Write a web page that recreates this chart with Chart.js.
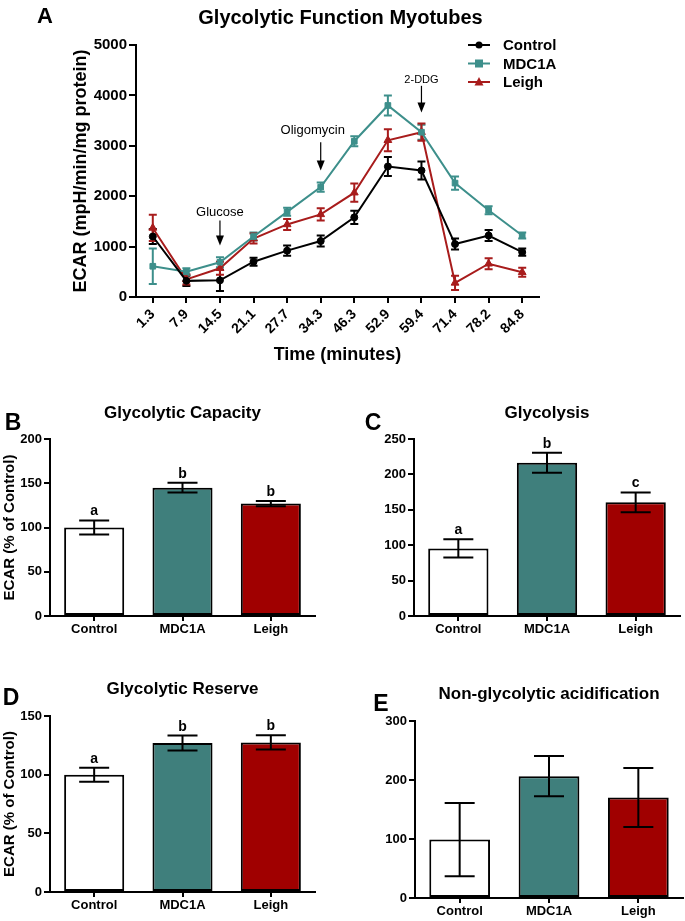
<!DOCTYPE html>
<html>
<head>
<meta charset="utf-8">
<script src="https://cdn.jsdelivr.net/npm/chart.js@4.4.0/dist/chart.umd.min.js"></script>
<style>
    body { margin: 0; background: #fff; }
    #page { position: relative; width: 685px; height: 921px; background: #fff; overflow: hidden; }
    canvas { position: absolute; }
</style>
</head>
<body>
<div id="page">
    <canvas id="chartA" width="685" height="370" style="left:0;top:0"></canvas>
    <canvas id="chartB" width="345" height="260" style="left:0;top:380px"></canvas>
    <canvas id="chartC" width="340" height="260" style="left:345px;top:380px"></canvas>
    <canvas id="chartD" width="345" height="281" style="left:0;top:640px"></canvas>
    <canvas id="chartE" width="340" height="281" style="left:345px;top:640px"></canvas>
</div>
<script>
const FONT = "'Liberation Sans', Arial, sans-serif";

// panel A - ECAR time course
const timeLabels = ['1.3', '7.9', '14.5', '21.1', '27.7', '34.3', '46.3', '52.9', '59.4', '71.4', '78.2', '84.8'];
const controlEcar = [1200, 320, 330, 700, 920, 1110, 1580, 2590, 2510, 1050, 1220, 890];
const controlErr = [150, 100, 210, 80, 100, 110, 130, 190, 180, 110, 110, 70];
const mdc1aEcar = [610, 500, 690, 1200, 1690, 2180, 3090, 3800, 3270, 2260, 1720, 1220];
const mdc1aErr = [350, 70, 100, 80, 80, 90, 100, 200, 150, 130, 80, 60];
const leighEcar = [1370, 350, 570, 1160, 1440, 1640, 2070, 3110, 3270, 280, 660, 490];
const leighErr = [260, 100, 130, 100, 110, 120, 180, 220, 170, 140, 110, 90];

// injections: label, category index
const injections = ['Glucose', 'Oligomycin', '2-DDG'];
const injectionIndex = [2, 5, 8];

// panels B-E - % of control
const groupLabels = ['Control', 'MDC1A', 'Leigh'];
const capacityValues = [100, 145, 127];
const capacityErr = [8, 5.5, 3];
const capacityLetters = ['a', 'b', 'b'];
const glycolysisValues = [95.5, 216.5, 160.5];
const glycolysisErr = [13, 14, 14];
const glycolysisLetters = ['a', 'b', 'c'];
const reserveValues = [100, 127, 127.5];
const reserveErr = [6, 6.3, 6];
const reserveLetters = ['a', 'b', 'b'];
const nonGlycoValues = [99, 206.5, 170.5];
const nonGlycoErr = [62, 34, 50];

const COLORS = {
    control: '#000000',
    mdc1a: '#3d8f8b',
    leigh: '#a81c1c',
    controlBar: '#ffffff',
    mdc1aBar: '#3f7f7c',
    leighBar: '#a00000'
};

function font (size, weight = 'bold') {
    return { family: FONT, size: size, weight: weight };
}

function fixSize (prop, value) {
    return scale => { scale[prop] = value; };
}

function drawMarker (ctx, style, x, y, r) {
    ctx.beginPath();
    if (style === 'circle') {
        ctx.arc(x, y, r, 0, Math.PI * 2);
    } else if (style === 'rect') {
        ctx.rect(x - r, y - r, r * 2, r * 2);
    } else {
        ctx.moveTo(x, y - r * 1.1);
        ctx.lineTo(x + r, y + r * 0.8);
        ctx.lineTo(x - r, y + r * 0.8);
        ctx.closePath();
    }
    ctx.fill();
}

// letter + title drawn in the padding above each panel
const panelText = {
    id: 'panelText',
    afterDraw (chart, args, opts) {
        const { ctx, chartArea } = chart;
        ctx.save();
        ctx.fillStyle = '#000';
        ctx.textBaseline = 'middle';
        ctx.textAlign = 'center';
        ctx.font = `bold ${opts.letterSize}px ${FONT}`;
        ctx.fillText(opts.letter, opts.letterX, opts.letterY);
        ctx.font = `bold ${opts.titleSize}px ${FONT}`;
        ctx.fillText(opts.title, (chartArea.left + chartArea.right) / 2 + (opts.titleShift || 0), opts.titleY);
        ctx.restore();
    }
};

const lineErrorBars = {
    id: 'lineErrorBars',
    beforeDatasetsDraw (chart) {
        const { ctx, scales: { y } } = chart;
        chart.data.datasets.forEach((ds, i) => {
            const meta = chart.getDatasetMeta(i);
            ctx.save();
            ctx.strokeStyle = ds.borderColor;
            ctx.lineWidth = 2;
            meta.data.forEach((pt, j) => {
                const hi = y.getPixelForValue(ds.data[j] + ds.errors[j]);
                const lo = y.getPixelForValue(ds.data[j] - ds.errors[j]);
                ctx.beginPath();
                ctx.moveTo(pt.x, hi); ctx.lineTo(pt.x, lo);
                ctx.moveTo(pt.x - 4, hi); ctx.lineTo(pt.x + 4, hi);
                ctx.moveTo(pt.x - 4, lo); ctx.lineTo(pt.x + 4, lo);
                ctx.stroke();
            });
            ctx.restore();
        });
    }
};

const seriesLegend = {
    id: 'seriesLegend',
    afterDraw (chart, args, opts) {
        const { ctx } = chart;
        ctx.save();
        ctx.font = `bold 15px ${FONT}`;
        ctx.textBaseline = 'middle';
        chart.data.datasets.forEach((ds, i) => {
            const y = opts.y + i * opts.rowHeight;
            ctx.strokeStyle = ds.borderColor;
            ctx.fillStyle = ds.borderColor;
            ctx.lineWidth = 2;
            ctx.beginPath();
            ctx.moveTo(opts.x, y);
            ctx.lineTo(opts.x + 22, y);
            ctx.stroke();
            drawMarker(ctx, ds.pointStyle, opts.x + 11, y, ds.pointRadius);
            ctx.fillStyle = '#000';
            ctx.fillText(ds.label, opts.x + 35, y + 1);
        });
        ctx.restore();
    }
};

const injectionArrows = {
    id: 'injectionArrows',
    afterDraw (chart, args, opts) {
        const { ctx, scales: { x, y } } = chart;
        ctx.save();
        ctx.fillStyle = '#000';
        ctx.strokeStyle = '#000';
        ctx.lineWidth = 1.2;
        ctx.textAlign = 'center';
        ctx.textBaseline = 'middle';
        injections.forEach((name, i) => {
            const a = opts.anchors[i];
            const px = x.getPixelForValue(injectionIndex[i]);
            const top = y.getPixelForValue(a.from);
            const tip = y.getPixelForValue(a.to);
            ctx.font = `${a.size}px ${FONT}`;
            ctx.fillText(name, px + (a.dx || 0), y.getPixelForValue(a.text));
            ctx.beginPath();
            ctx.moveTo(px, top);
            ctx.lineTo(px, tip - 8);
            ctx.stroke();
            ctx.beginPath();
            ctx.moveTo(px - 4, tip - 10);
            ctx.lineTo(px + 4, tip - 10);
            ctx.lineTo(px, tip);
            ctx.closePath();
            ctx.fill();
        });
        ctx.restore();
    }
};

function createTimeCourse () {
    const series = (label, data, errors, color, style, radius) => ({
        label, data, errors,
        borderColor: color,
        backgroundColor: color,
        pointBackgroundColor: color,
        pointBorderColor: color,
        pointStyle: style,
        pointRadius: radius,
        pointBorderWidth: 1,
        borderWidth: 2,
        tension: 0
    });

    return new Chart(document.getElementById('chartA'), {
        type: 'line',
        data: {
            labels: timeLabels,
            datasets: [
                series('Control', controlEcar, controlErr, COLORS.control, 'circle', 3.5),
                series('MDC1A', mdc1aEcar, mdc1aErr, COLORS.mdc1a, 'rect', 4),
                series('Leigh', leighEcar, leighErr, COLORS.leigh, 'triangle', 4.5)
            ]
        },
        options: {
            responsive: false,
            animation: false,
            layout: { padding: { top: 45, right: 146, left: 0, bottom: 0 } },
            plugins: {
                legend: { display: false },
                tooltip: { enabled: false },
                panelText: { letter: 'A', letterX: 45, letterY: 17, letterSize: 22, title: 'Glycolytic Function Myotubes', titleY: 18, titleSize: 20, titleShift: 3 },
                seriesLegend: { x: 468, y: 45, rowHeight: 18.5 },
                injectionArrows: {
                    anchors: [
                        { text: 1670, from: 1520, to: 1020, size: 13 },
                        { text: 3310, from: 3070, to: 2510, size: 13, dx: -8 },
                        { text: 4300, from: 4190, to: 3660, size: 11 }
                    ]
                }
            },
            scales: {
                x: {
                    type: 'category',
                    offset: true,
                    afterFit: fixSize('height', 73),
                    border: { color: '#000', width: 2 },
                    grid: { display: true, drawOnChartArea: false, offset: false, tickLength: 6, color: '#000', lineWidth: 2 },
                    ticks: { autoSkip: false, minRotation: 45, maxRotation: 45, padding: 3, color: '#000', font: font(14) },
                    title: { display: true, text: 'Time (minutes)', color: '#000', font: font(18), padding: { bottom: 4 } }
                },
                y: {
                    min: 0,
                    max: 5000,
                    afterFit: fixSize('width', 136),
                    border: { color: '#000', width: 2 },
                    grid: { display: true, drawOnChartArea: false, tickLength: 7, color: '#000', lineWidth: 2 },
                    ticks: { stepSize: 1000, padding: 2, color: '#000', font: font(15), callback: value => String(value) },
                    title: { display: true, text: 'ECAR (mpH/min/mg protein)', color: '#000', font: font(18), padding: { top: 70 } }
                }
            }
        },
        plugins: [lineErrorBars, seriesLegend, injectionArrows, panelText]
    });
}

const barErrorBars = {
    id: 'barErrorBars',
    afterDatasetsDraw (chart, args, opts) {
        const { ctx, scales: { y } } = chart;
        const ds = chart.data.datasets[0];
        const meta = chart.getDatasetMeta(0);
        ctx.save();
        ctx.strokeStyle = '#000';
        ctx.fillStyle = '#000';
        ctx.lineWidth = 2;
        ctx.font = `bold 14px ${FONT}`;
        ctx.textAlign = 'center';
        ctx.textBaseline = 'alphabetic';
        meta.data.forEach((bar, j) => {
            const hi = y.getPixelForValue(ds.data[j] + ds.errors[j]);
            const lo = y.getPixelForValue(ds.data[j] - ds.errors[j]);
            ctx.beginPath();
            ctx.moveTo(bar.x, hi); ctx.lineTo(bar.x, lo);
            ctx.moveTo(bar.x - 15, hi); ctx.lineTo(bar.x + 15, hi);
            ctx.moveTo(bar.x - 15, lo); ctx.lineTo(bar.x + 15, lo);
            ctx.stroke();
            if (ds.letters) {
                ctx.fillText(ds.letters[j], bar.x, hi - 5);
            }
        });
        ctx.restore();
    }
};

function getBarConfig (values, errors, letters, box) {
    return {
        type: 'bar',
        data: {
            labels: groupLabels,
            datasets: [{
                data: values,
                errors: errors,
                letters: letters,
                backgroundColor: [COLORS.controlBar, COLORS.mdc1aBar, COLORS.leighBar],
                borderColor: '#000',
                borderWidth: 2,
                borderSkipped: false,
                barPercentage: 0.68,
                categoryPercentage: 1
            }]
        },
        options: {
            responsive: false,
            animation: false,
            layout: { padding: { top: box.top, right: box.right, left: 0, bottom: 0 } },
            plugins: {
                legend: { display: false },
                tooltip: { enabled: false },
                panelText: { letter: box.letter, letterX: box.letterX, letterY: box.letterY, letterSize: 23, title: box.title, titleY: box.titleY, titleSize: 17 }
            },
            scales: {
                x: {
                    afterFit: fixSize('height', box.xHeight),
                    border: { color: '#000', width: 2 },
                    grid: { display: true, drawOnChartArea: false, offset: false, tickLength: 5, color: '#000', lineWidth: 2 },
                    ticks: { padding: 1, color: '#000', font: font(13) }
                },
                y: {
                    min: 0,
                    max: box.max,
                    afterFit: fixSize('width', box.yWidth),
                    border: { color: '#000', width: 2 },
                    grid: { display: true, drawOnChartArea: false, tickLength: 6, color: '#000', lineWidth: 2 },
                    ticks: { stepSize: box.step, padding: 2, color: '#000', font: font(13) },
                    title: { display: box.yTitle, text: 'ECAR (% of Control)', color: '#000', font: font(15), padding: { top: 1 } }
                }
            }
        },
        plugins: [barErrorBars, panelText]
    };
}

function createBarChart (id, values, errors, letters, box) {
    return new Chart(document.getElementById(id), getBarConfig(values, errors, letters, box));
}

createTimeCourse();
createBarChart('chartB', capacityValues, capacityErr, capacityLetters, {
    letter: 'B', letterX: 13, letterY: 44, title: 'Glycolytic Capacity', titleY: 33,
    top: 59, right: 30, xHeight: 24, yWidth: 50, max: 200, step: 50, yTitle: true
});
createBarChart('chartC', glycolysisValues, glycolysisErr, glycolysisLetters, {
    letter: 'C', letterX: 28, letterY: 44, title: 'Glycolysis', titleY: 33,
    top: 59, right: 5, xHeight: 24, yWidth: 69, max: 250, step: 50, yTitle: false
});
createBarChart('chartD', reserveValues, reserveErr, reserveLetters, {
    letter: 'D', letterX: 11, letterY: 59, title: 'Glycolytic Reserve', titleY: 49,
    top: 76, right: 30, xHeight: 29, yWidth: 50, max: 150, step: 50, yTitle: true
});
createBarChart('chartE', nonGlycoValues, nonGlycoErr, null, {
    letter: 'E', letterX: 36, letterY: 65, title: 'Non-glycolytic acidification', titleY: 54,
    top: 81, right: 2, xHeight: 23, yWidth: 70, max: 300, step: 100, yTitle: false
});
</script>
</body>
</html>
